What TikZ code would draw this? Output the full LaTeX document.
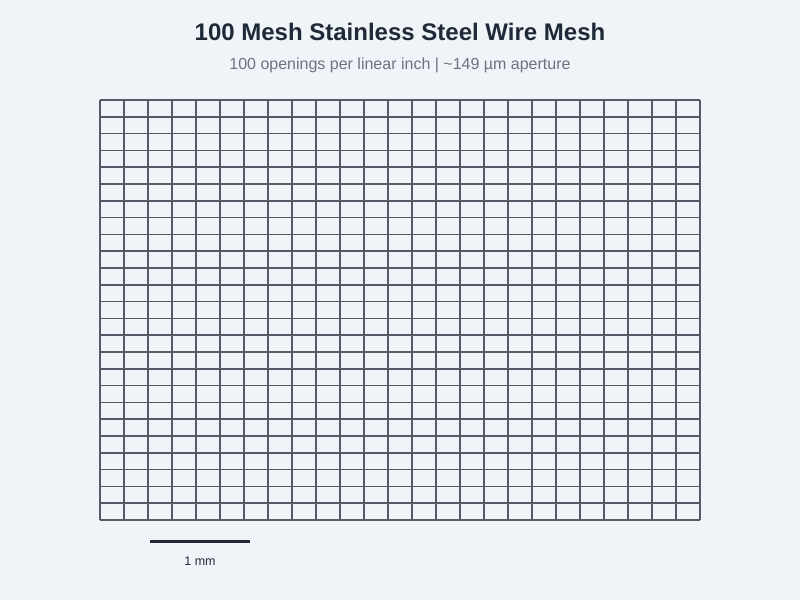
\documentclass[tikz,border=0pt]{standalone}
\usepackage{fontspec}
\setmainfont{Liberation Sans}
\usetikzlibrary{positioning}
\definecolor{bgcol}{HTML}{F0F4F9}
\definecolor{wire}{HTML}{555B66}
\definecolor{ink}{HTML}{1F2937}
\definecolor{subgrey}{HTML}{6B7280}
\begin{document}
\begin{tikzpicture}[x=1pt,y=-1pt]
\tikzstyle{title}=[font=\fontsize{24}{28}\selectfont\bfseries,text=ink]
\tikzstyle{subtitle}=[font=\fontsize{16}{19}\selectfont,text=subgrey]
\tikzstyle{wireline}=[draw=wire,line width=1.5pt]
\tikzstyle{scalebar}=[draw=ink,line width=3pt]
\fill [bgcol] (0,0) rectangle (800,600);
\node [title] at (400,32) (head) {100 Mesh Stainless Steel Wire Mesh};
\node [subtitle] at (400,65) (sub) {100 openings per linear inch | \textasciitilde149 µm aperture};
% mesh wires
\foreach \i in {0,...,25} {
  \draw [wireline] (100+24*\i,100) -- (100+24*\i,520);
  \draw [wireline] (100,100+16.8*\i) -- (700,100+16.8*\i);
}
% scale
\coordinate (s1) at (150,541);
\coordinate (s2) at (250,541);
\draw [scalebar] (s1) -- (s2);
\node [font=\fontsize{12.5}{15}\selectfont,text=ink] at (200,561) (lbl) {1 mm};
\end{tikzpicture}
\end{document}
